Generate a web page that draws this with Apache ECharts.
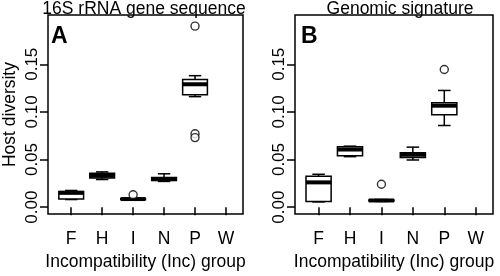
<!DOCTYPE html>
<html>
<head>
<meta charset="utf-8">
<script src="https://cdn.jsdelivr.net/npm/echarts@6/dist/echarts.min.js"></script>
<style>
  html, body { margin: 0; padding: 0; background: #fff; }
  #chart { width: 500px; height: 276px; }
</style>
</head>
<body>
<div id="chart"></div>
<script>
// Inc groups on the x axis
const groups = ['F', 'H', 'I', 'N', 'P', 'W'];
const yTicks = [0, 0.05, 0.10, 0.15];

// [min, q1, median, q3, max] per group, null = no data
const rrnaBoxes = [
  [0.008, 0.0085, 0.015, 0.0165, 0.0175],
  [0.029, 0.0305, 0.033, 0.0355, 0.037],
  [0.0075, 0.008, 0.0085, 0.009, 0.0095],
  [0.027, 0.028, 0.0295, 0.031, 0.035],
  [0.116, 0.118, 0.129, 0.134, 0.138],
  null
];
const rrnaOutliers = [['I', 0.013], ['P', 0.19], ['P', 0.077], ['P', 0.073]];

const genomicBoxes = [
  [0.0055, 0.006, 0.026, 0.0325, 0.0345],
  [0.053, 0.054, 0.0605, 0.0635, 0.064],
  [0.006, 0.0065, 0.007, 0.0075, 0.008],
  [0.0495, 0.052, 0.055, 0.057, 0.063],
  [0.0857, 0.097, 0.1065, 0.1095, 0.1225],
  null
];
const genomicOutliers = [['I', 0.024], ['P', 0.1445]];

const FONT = 'Liberation Sans, Arial, sans-serif';
const boxWidth = 0.8;

function boxData(boxes) {
  const out = [];
  boxes.forEach((b, i) => { if (b) out.push([i + 1].concat(b)); });
  return out;
}
function outlierData(list) {
  return list.map(o => [groups.indexOf(o[0]) + 1, o[1]]);
}

function renderBox(params, api) {
  const x = api.value(0);
  const lo = api.coord([x, api.value(1)]);
  const q1 = api.coord([x, api.value(2)]);
  const md = api.coord([x, api.value(3)]);
  const q3 = api.coord([x, api.value(4)]);
  const hi = api.coord([x, api.value(5)]);
  const hw = api.size([boxWidth / 2, 0])[0];
  const sw = hw / 2;
  const cx = lo[0];
  const st = { stroke: '#000', lineWidth: 1.5, fill: null };
  return {
    type: 'group',
    children: [
      { type: 'line', shape: { x1: cx, y1: hi[1], x2: cx, y2: q3[1] }, style: st },
      { type: 'line', shape: { x1: cx, y1: q1[1], x2: cx, y2: lo[1] }, style: st },
      { type: 'line', shape: { x1: cx - sw, y1: hi[1], x2: cx + sw, y2: hi[1] }, style: st },
      { type: 'line', shape: { x1: cx - sw, y1: lo[1], x2: cx + sw, y2: lo[1] }, style: st },
      { type: 'rect', shape: { x: cx - hw, y: q3[1], width: 2 * hw, height: q1[1] - q3[1] },
        style: { stroke: '#000', lineWidth: 1.5, fill: '#fff' } },
      { type: 'line', shape: { x1: cx - hw, y1: md[1], x2: cx + hw, y2: md[1] },
        style: { stroke: '#000', lineWidth: 4 } }
    ]
  };
}

function xAxisFor(i) {
  return {
    type: 'value', gridIndex: i, min: 0.25, max: 6.55,
    name: 'Incompatibility (Inc) group', nameLocation: 'middle', nameGap: 37,
    nameTextStyle: { color: '#000', fontSize: 17.5, fontFamily: FONT },
    axisLine: { show: false },
    splitLine: { show: false },
    axisTick: { show: true, length: 8, customValues: [1, 2, 3, 4, 5, 6],
      lineStyle: { color: '#000', width: 1.5 } },
    axisLabel: { customValues: [1, 2, 3, 4, 5, 6], formatter: v => groups[Math.round(v) - 1],
      color: '#000', fontSize: 17.5, fontFamily: FONT, margin: 16 }
  };
}
function yAxisFor(i, name) {
  return {
    type: 'value', gridIndex: i, min: -0.0073, max: 0.2017,
    name: name, nameLocation: 'middle', nameGap: 29,
    nameTextStyle: { color: '#000', fontSize: 17.5, fontFamily: FONT },
    axisLine: { show: false },
    splitLine: { show: false },
    axisTick: { show: true, length: 8, customValues: yTicks,
      lineStyle: { color: '#000', width: 1.5 } },
    axisLabel: { customValues: yTicks, formatter: v => v.toFixed(2), rotate: 90,
      color: '#000', fontSize: 17, fontFamily: FONT, margin: 7 }
  };
}

const chart = echarts.init(document.getElementById('chart'), null, { renderer: 'canvas' });
const option = {
  animation: false,
  backgroundColor: '#fff',
  grid: [
    { left: 45, top: 15, width: 198, height: 209, show: true, borderColor: '#000', borderWidth: 1.5, backgroundColor: 'transparent' },
    { left: 295, top: 15, width: 198, height: 209, show: true, borderColor: '#000', borderWidth: 1.5, backgroundColor: 'transparent' }
  ],
  xAxis: [xAxisFor(0), xAxisFor(1)],
  yAxis: [yAxisFor(0, 'Host diversity'), yAxisFor(1, '')],
  graphic: [
    { type: 'text', x: 144, y: 9, style: { text: '16S rRNA gene sequence', textAlign: 'center', textVerticalAlign: 'middle', fontSize: 17.5, fontFamily: FONT, fill: '#000' } },
    { type: 'text', x: 400, y: 9, style: { text: 'Genomic signature', textAlign: 'center', textVerticalAlign: 'middle', fontSize: 17.5, fontFamily: FONT, fill: '#000' } },
    { type: 'text', x: 51, y: 37, style: { text: 'A', textAlign: 'left', textVerticalAlign: 'middle', fontSize: 23, fontWeight: 'bold', fontFamily: FONT, fill: '#000' } },
    { type: 'text', x: 301, y: 37, style: { text: 'B', textAlign: 'left', textVerticalAlign: 'middle', fontSize: 23, fontWeight: 'bold', fontFamily: FONT, fill: '#000' } }
  ],
  series: [
    { type: 'custom', xAxisIndex: 0, yAxisIndex: 0, renderItem: renderBox,
      encode: { x: 0, y: [1, 2, 3, 4, 5] }, data: boxData(rrnaBoxes) },
    { type: 'scatter', xAxisIndex: 0, yAxisIndex: 0, symbol: 'circle', symbolSize: 8,
      itemStyle: { color: '#fff', borderColor: '#000', borderWidth: 1.4 },
      data: outlierData(rrnaOutliers) },
    { type: 'custom', xAxisIndex: 1, yAxisIndex: 1, renderItem: renderBox,
      encode: { x: 0, y: [1, 2, 3, 4, 5] }, data: boxData(genomicBoxes) },
    { type: 'scatter', xAxisIndex: 1, yAxisIndex: 1, symbol: 'circle', symbolSize: 8,
      itemStyle: { color: '#fff', borderColor: '#000', borderWidth: 1.4 },
      data: outlierData(genomicOutliers) }
  ]
};
chart.setOption(option);
</script>
</body>
</html>
